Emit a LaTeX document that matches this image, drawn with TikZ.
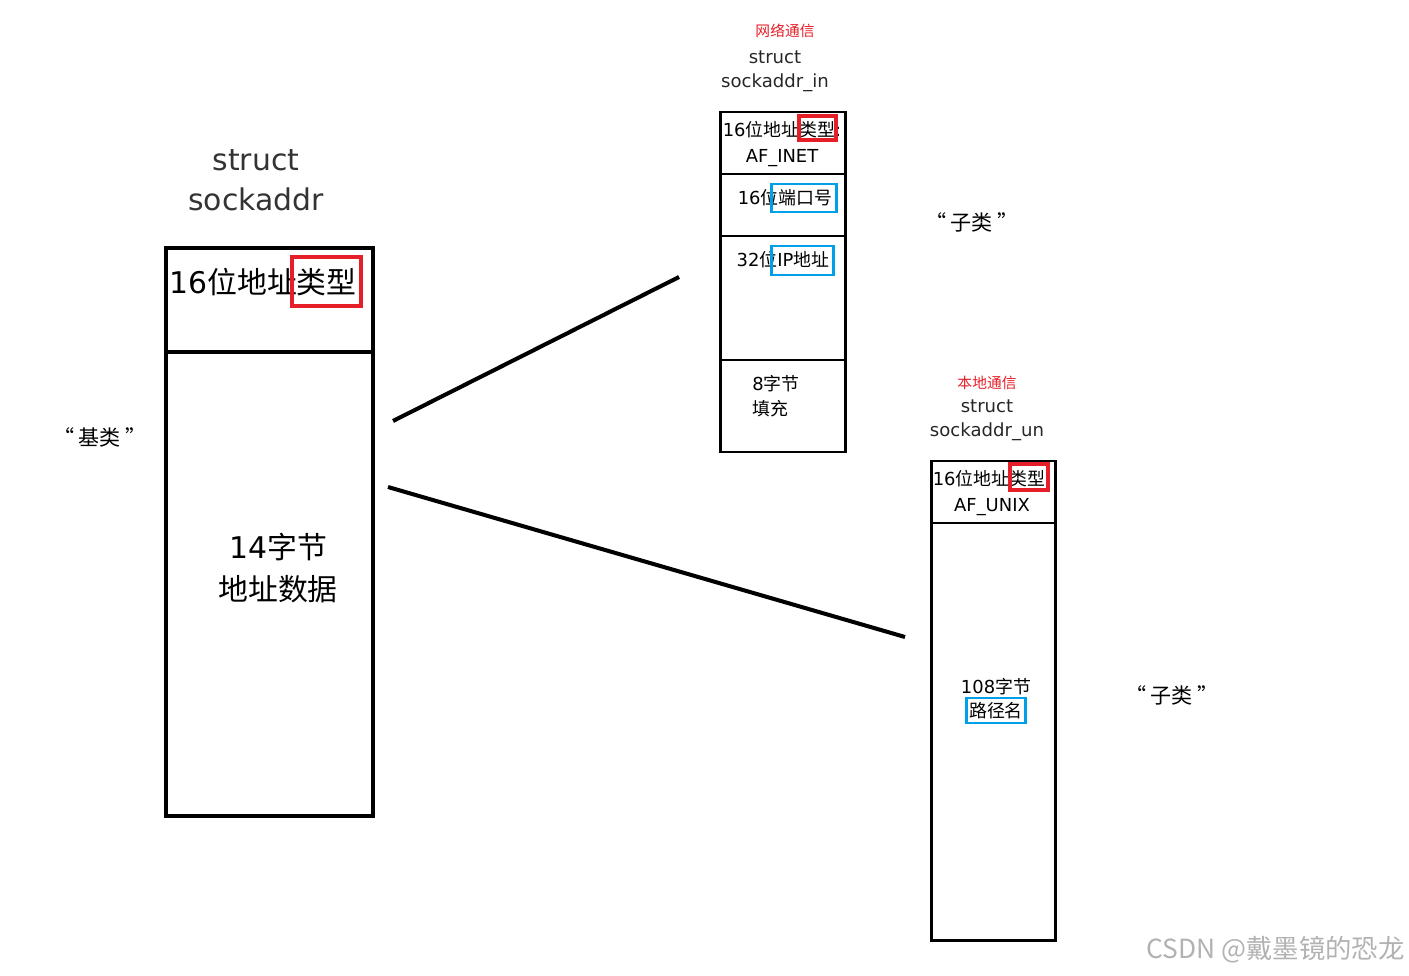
\documentclass[tikz,border=0pt]{standalone}
\usepackage{fontspec}
\setmainfont{DejaVu Sans}
\newfontfamily\zhfont{Noto Sans CJK SC}
\newcommand{\zh}[1]{{\zhfont #1}}
\definecolor{markred}{RGB}{230,30,40}
\definecolor{markblue}{RGB}{0,160,233}

\begin{document}
\begin{tikzpicture}[x=0.02cm, y=-0.02cm]
  \useasboundingbox (0,0) rectangle (1409,976);
  \tikzset{
    box/.style={draw=black, line width=2.2pt},
    subbox/.style={draw=black, line width=1.7pt},
    redmark/.style={draw=markred, line width=1.8pt},
    bluemark/.style={draw=markblue, line width=1.7pt},
    label/.style={inner sep=0pt, align=center},
    kind/.style={inner sep=0pt, font=\zhfont\fontsize{12}{14}\selectfont}
  }

  % Base struct: sockaddr
  \node[label, font=\fontsize{17}{23}\selectfont, text=black!80] (basetitle) at (256,180) {struct\\sockaddr};
  \draw[box] (166,248) rectangle (373,816);
  \draw[box] (166,352) -- (373,352);
  \node[label, font=\fontsize{17}{20}\selectfont, anchor=west] (basetype) at (169,282) {16\zh{位地址类型}};
  \draw[redmark, line width=2.2pt] (292,257) rectangle (361,306);
  \node[label, font=\fontsize{17}{23.5}\selectfont] (basedata) at (278,568) {14\zh{字节}\\\zh{地址数据}};
  \node[kind] (baselabel) at (100,437) {“\hspace{0.2em}基类\hspace{0.2em}”};

  % Connectors to the two subtypes
  \coordinate (inA) at (393,421);
  \coordinate (inB) at (679,277);
  \coordinate (unA) at (388,487);
  \coordinate (unB) at (905,637);
  \draw[line width=2.3pt] (inA) -- (inB);
  \draw[line width=2.3pt] (unA) -- (unB);

  % sockaddr_in
  \node[label, font=\zhfont\fontsize{8.4}{10}\selectfont, text=markred] (innote) at (785,31) {网络通信};
  \node[label, font=\fontsize{10.3}{13.6}\selectfont, text=black!85] (intitle) at (775,71) {struct\\sockaddr\_in};
  \draw[subbox] (720,112) rectangle (845,452);
  \draw[subbox] (720,174) -- (845,174);
  \draw[subbox] (720,236) -- (845,236);
  \draw[subbox] (720,360) -- (845,360);
  \node[label, font=\fontsize{10.2}{14.5}\selectfont] (intype) at (782,144) {16\zh{位地址类型}:\\AF\_INET};
  \draw[redmark] (799,116) rectangle (836,140);
  \node[label, font=\fontsize{10.2}{12}\selectfont] (inport) at (785,198) {16\zh{位端口号}};
  \draw[bluemark] (771,184) rectangle (836,212);
  \node[label, font=\fontsize{10.2}{12}\selectfont] (inaddr) at (783,260) {32\zh{位}IP\zh{地址}};
  \draw[bluemark] (771,246) rectangle (833,275);
  \node[label, align=left, anchor=west, font=\fontsize{10.2}{14.5}\selectfont] (inpad) at (752,396) {8\zh{字节}\\\zh{填充}};
  \node[kind] (inlabel) at (972,222) {“\hspace{0.2em}子类\hspace{0.2em}”};

  % sockaddr_un
  \node[label, font=\zhfont\fontsize{8.4}{10}\selectfont, text=markred] (unnote) at (987,383) {本地通信};
  \node[label, font=\fontsize{10.3}{13.6}\selectfont, text=black!85] (untitle) at (987,420) {struct\\sockaddr\_un};
  \draw[subbox] (931,461) rectangle (1055,940);
  \draw[subbox] (931,523) -- (1055,523);
  \node[label, font=\fontsize{10.2}{14.5}\selectfont] (untype) at (992,493) {16\zh{位地址类型}:\\AF\_UNIX};
  \draw[redmark] (1010,464) rectangle (1048,490);
  \node[label, font=\fontsize{10.2}{13.6}\selectfont] (undata) at (996,699) {108\zh{字节}\\\zh{路径名}};
  \draw[bluemark] (966,698) rectangle (1025,723);
  \node[kind] (unlabel) at (1172,695) {“\hspace{0.2em}子类\hspace{0.2em}”};

  % watermark
  \node[label, font=\zhfont\fontsize{15}{18}\selectfont, text=black!30, anchor=east] (mark) at (1405,950) {CSDN @戴墨镜的恐龙};
\end{tikzpicture}
\end{document}
